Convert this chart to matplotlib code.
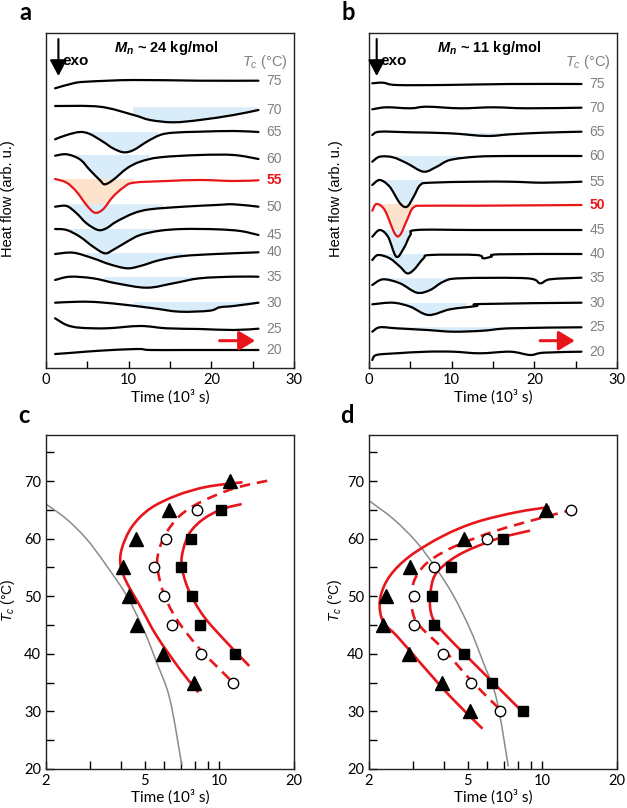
import matplotlib
matplotlib.use("Agg")
import matplotlib.pyplot as plt
from matplotlib.ticker import FixedLocator, FixedFormatter, NullFormatter
from matplotlib.path import Path
from matplotlib.patches import PathPatch, Rectangle
from matplotlib.transforms import Affine2D
import numpy as np

plt.rcParams['mathtext.fontset'] = 'custom'
plt.rcParams['mathtext.rm'] = 'Liberation Sans'
plt.rcParams['mathtext.it'] = 'Liberation Sans:italic'
plt.rcParams['mathtext.bf'] = 'Liberation Sans:italic:bold'

# ---------------- Panel a data (time in 10^3 s, heat flow arb. u.) ----------------
A75_T = [1.1, 3.3, 4.9, 10.6, 18.6, 25.7]
A75_H = [279.7, 284.7, 286.3, 288.0, 287.3, 287.3]
A70_T = [1.1, 6.5, 10.6, 12.6, 15.4, 18.6, 22.7, 25.7]
A70_H = [262.0, 261.3, 253.0, 248.0, 245.7, 248.0, 253.0, 258.0]
A65_T = [1.1, 2.5, 4.1, 5.3, 6.9, 8.1, 9.4, 10.6, 12.2, 13.8, 15.4, 18.6, 22.7, 25.7]
A65_H = [228.7, 233.0, 236.0, 234.0, 226.3, 219.7, 215.7, 218.0, 226.3, 233.0, 235.3, 236.3, 237.0, 236.0]
A60_T = [1.1, 2.5, 4.1, 5.3, 6.5, 7.1, 8.1, 9.8, 11.4, 13.8, 18.6, 22.7, 25.7]
A60_H = [212.3, 213.7, 208.7, 198.0, 188.0, 183.7, 188.0, 199.7, 206.3, 210.7, 213.0, 213.0, 209.0]
A55_T = [1.1, 2.5, 3.7, 4.9, 5.9, 6.9, 8.1, 9.4, 10.6, 14.6, 18.6, 22.7, 25.7]
A55_H = [189.0, 185.3, 176.3, 163.0, 155.3, 158.7, 171.3, 180.7, 185.3, 187.0, 188.0, 187.0, 187.7]
A50_T = [1.1, 2.5, 3.7, 4.9, 6.3, 7.3, 8.5, 10.6, 12.6, 16.6, 20.6, 22.7, 25.7]
A50_H = [161.3, 162.0, 154.7, 144.7, 138.0, 139.7, 146.3, 154.7, 158.7, 161.3, 163.0, 163.7, 161.3]
A45_T = [1.1, 2.5, 4.1, 5.7, 7.1, 8.1, 9.8, 11.4, 13.8, 16.6, 20.6, 23.5, 25.7]
A45_H = [139.0, 138.0, 131.3, 121.3, 114.7, 118.0, 126.3, 133.0, 137.3, 139.0, 138.7, 137.0, 133.0]
A40_T = [1.1, 3.3, 5.7, 7.7, 9.8, 11.4, 13.8, 16.6, 20.6, 25.7]
A40_H = [114.0, 115.3, 109.7, 103.7, 99.7, 102.0, 108.0, 112.0, 114.0, 115.7]
A35_T = [1.1, 2.9, 5.7, 8.5, 12.2, 15.4, 18.6, 22.7, 25.7]
A35_H = [88.0, 91.3, 89.7, 84.7, 80.3, 84.7, 89.7, 91.3, 91.3]
A30_T = [1.1, 4.1, 6.5, 9.8, 13.0, 16.2, 19.8, 21.0, 22.7, 25.7]
A30_H = [65.3, 66.3, 65.7, 63.0, 59.7, 56.3, 57.3, 60.7, 62.0, 65.3]
A25_T = [1.1, 2.5, 4.1, 7.3, 11.4, 14.6, 18.6, 22.7, 25.7]
A25_H = [49.7, 43.0, 40.3, 39.7, 42.0, 39.7, 39.0, 38.0, 39.3]
A20_T = [1.1, 3.3, 6.5, 11.0, 12.6, 16.6, 20.6, 25.7]
A20_H = [14.0, 15.3, 17.3, 19.0, 18.0, 18.0, 18.0, 18.0]

A_TC = [75, 70, 65, 60, 55, 50, 45, 40, 35, 30, 25, 20]
A_CURVES = [(A75_T, A75_H), (A70_T, A70_H), (A65_T, A65_H), (A60_T, A60_H),
            (A55_T, A55_H), (A50_T, A50_H), (A45_T, A45_H), (A40_T, A40_H),
            (A35_T, A35_H), (A30_T, A30_H), (A25_T, A25_H), (A20_T, A20_H)]
A_HIGHLIGHT = 55
# shaded exotherm regions: Tc -> (baseline, t_start, t_end)
A_FILL = {70: (260.7, 10.5, 25.7), 65: (236.0, 5.3, 13.6), 60: (213.0, 2.9, 12.5),
          55: (189.0, 1.1, 10.6), 50: (163.7, 2.7, 14.2), 45: (139.0, 2.9, 15.4),
          40: (115.3, 4.9, 16.6), 35: (91.3, 7.0, 19.4), 30: (66.3, 10.6, 25.4)}

# ---------------- Panel b data ----------------
B75_T = [0.4, 1.7, 3.3, 9.0, 17.1, 25.7]
B75_H = [284.7, 285.3, 283.0, 283.0, 284.0, 284.0]
B70_T = [0.4, 2.1, 5.0, 7.0, 11.0, 15.0, 19.1, 25.7]
B70_H = [258.7, 260.7, 259.7, 261.3, 259.7, 260.7, 259.7, 260.3]
B65_T = [0.4, 1.3, 5.0, 9.8, 14.2, 17.1, 21.1, 25.7]
B65_H = [233.0, 236.3, 235.7, 234.7, 232.0, 233.7, 235.3, 236.3]
B60_T = [0.4, 1.3, 2.9, 4.6, 6.6, 8.2, 9.8, 13.0, 17.1, 25.7]
B60_H = [206.3, 211.3, 210.7, 204.7, 196.3, 201.3, 208.0, 211.3, 212.0, 212.0]
B55_T = [0.4, 1.3, 2.5, 3.75, 4.6, 5.4, 6.2, 7.4, 13.0, 17.1, 21.1, 25.7]
B55_H = [183.0, 188.0, 181.3, 164.7, 161.3, 171.3, 183.0, 185.3, 186.3, 186.3, 185.3, 186.3]
B50_T = [0.4, 0.9, 1.9, 3.1, 3.75, 4.6, 5.4, 7.0, 13.0, 25.7]
B50_H = [157.3, 164.0, 158.0, 134.7, 133.0, 148.0, 160.7, 162.3, 162.3, 163.0]
B45_T = [0.4, 1.3, 2.3, 3.3, 4.2, 5.0, 5.8, 13.0, 25.7]
B45_H = [131.3, 138.0, 131.3, 111.3, 119.7, 133.0, 138.0, 138.0, 138.0]
B40_T = [0.4, 1.1, 2.5, 3.75, 4.6, 5.4, 6.6, 7.4, 13.0, 13.8, 14.8, 15.8, 25.7]
B40_H = [108.0, 113.0, 109.7, 101.3, 94.7, 98.0, 109.7, 113.0, 113.0, 109.7, 111.3, 113.7, 114.0]
B35_T = [0.4, 1.7, 3.75, 5.8, 7.4, 9.0, 11.0, 19.1, 20.7, 21.9, 25.7]
B35_H = [83.0, 88.7, 84.7, 75.3, 78.0, 86.3, 89.7, 89.7, 84.7, 88.7, 90.3]
B30_T = [0.4, 2.9, 5.0, 7.2, 9.8, 13.0, 13.6, 25.7]
B30_H = [63.7, 65.3, 61.3, 53.0, 58.7, 62.0, 64.0, 65.3]
B25_T = [0.4, 1.3, 3.3, 7.0, 10.2, 13.8, 17.1, 25.7]
B25_H = [36.3, 40.7, 39.7, 38.0, 36.3, 37.3, 39.7, 40.7]
B20_T = [0.4, 0.9, 3.3, 7.0, 10.2, 13.4, 17.1, 19.5, 21.1, 25.7]
B20_H = [8.0, 13.0, 14.7, 16.3, 16.3, 14.7, 16.3, 13.0, 15.3, 16.3]

B_TC = [75, 70, 65, 60, 55, 50, 45, 40, 35, 30, 25, 20]
B_CURVES = [(B75_T, B75_H), (B70_T, B70_H), (B65_T, B65_H), (B60_T, B60_H),
            (B55_T, B55_H), (B50_T, B50_H), (B45_T, B45_H), (B40_T, B40_H),
            (B35_T, B35_H), (B30_T, B30_H), (B25_T, B25_H), (B20_T, B20_H)]
B_HIGHLIGHT = 50
B_FILL = {65: (235.3, 9.8, 21.1), 60: (212.0, 3.3, 11.0), 55: (188.0, 1.7, 6.6),
          50: (164.0, 0.9, 5.8), 45: (138.0, 1.5, 5.8), 40: (114.0, 1.5, 7.5),
          35: (89.7, 2.1, 9.8), 30: (65.3, 3.7, 11.8), 25: (40.7, 3.3, 17.9)}

# ---------------- Panel c data (Tc vs time, 10^3 s) ----------------
C_TC_TRI = [70, 65, 60, 55, 50, 45, 40, 35]
C_T_TRI = [11.0, 6.28, 4.61, 4.10, 4.34, 4.64, 5.94, 7.93]
C_TC_CIR = [65, 60, 55, 50, 45, 40, 35]
C_T_CIR = [8.10, 6.09, 5.47, 5.98, 6.44, 8.41, 11.3]
C_TC_SQ = [65, 60, 55, 50, 45, 40]
C_T_SQ = [10.2, 7.66, 6.98, 7.73, 8.36, 11.6]
C_FIT1_T = [8.23, 6.94, 5.59, 4.79, 4.23, 4.00, 4.04, 4.43, 5.25, 6.73, 8.89, 12.4]
C_FIT1_Y = [33.3, 37.3, 43.1, 48.3, 52.4, 55.3, 58.2, 62.0, 65.2, 67.5, 69.0, 69.8]
C_FIT2_T = [11.0, 8.36, 6.73, 5.94, 5.62, 5.73, 6.13, 6.94, 8.36, 11.4, 15.8]
C_FIT2_Y = [35.6, 40.8, 46.0, 50.7, 55.3, 58.2, 61.1, 64.0, 66.3, 68.7, 70.1]
C_FIT3_T = [13.2, 10.7, 8.62, 7.50, 7.05, 7.16, 7.62, 8.62, 10.2, 12.3]
C_FIT3_Y = [37.9, 42.0, 46.6, 51.2, 55.3, 58.2, 61.1, 63.4, 65.1, 66.0]
C_GRAY_T = [2.0, 2.42, 2.92, 3.51, 4.23, 4.94, 5.59, 6.32, 7.05]
C_GRAY_Y = [66.0, 63.4, 59.9, 55.3, 50.1, 44.3, 38.5, 32.1, 20.75]

# ---------------- Panel d data ----------------
D_TC_TRI = [65, 60, 55, 50, 45, 40, 35, 30]
D_T_TRI = [10.3, 4.83, 2.93, 2.34, 2.27, 2.91, 3.93, 5.11]
D_TC_CIR = [65, 60, 55, 50, 45, 40, 35, 30]
D_T_CIR = [13.0, 5.97, 3.67, 3.04, 3.05, 3.99, 5.16, 6.75]
D_TC_SQ = [60, 55, 50, 45, 40, 35, 30]
D_T_SQ = [6.92, 4.28, 3.58, 3.67, 4.83, 6.28, 8.38]
D_FIT1_T = [5.74, 4.24, 3.21, 2.59, 2.32, 2.22, 2.23, 2.43, 2.93, 3.99, 5.44, 7.88, 10.7]
D_FIT1_Y = [27.0, 32.65, 38.5, 43.1, 45.1, 47.2, 50.1, 53.55, 57.0, 60.5, 62.9, 64.6, 65.5]
D_FIT2_T = [6.65, 5.11, 3.99, 3.21, 3.00, 2.97, 3.11, 3.52, 4.51, 6.54, 10.1, 12.9]
D_FIT2_Y = [30.6, 35.56, 40.8, 44.8, 47.2, 50.7, 53.55, 56.2, 58.8, 61.4, 63.7, 64.9]
D_FIT3_T = [8.51, 6.54, 4.95, 3.99, 3.63, 3.52, 3.63, 3.99, 4.80, 6.54, 8.92]
D_FIT3_Y = [29.5, 34.4, 39.6, 43.7, 46.0, 48.9, 53.0, 55.3, 57.6, 59.95, 61.4]
D_GRAY_T = [2.0, 2.51, 3.11, 3.75, 4.38, 5.11, 5.78, 6.54, 7.29]
D_GRAY_Y = [66.6, 63.4, 59.4, 54.7, 50.1, 44.3, 38.5, 32.1, 20.45]

TOP_XTICKS = [0, 10, 20, 30]
BOT_XTICKS = [2, 5, 10, 20]
BOT_YTICKS = [20, 30, 40, 50, 60, 70]

RED = '#e8161b'
BLUE_FILL = '#d9ecfa'
ORANGE_FILL = '#fde2cc'
GRAY_TXT = '#808080'
NUMFONT = ['Lato', 'DejaVu Sans']
ARIAL = ['Liberation Sans', 'DejaVu Sans']

W, H = 627, 808
fig = plt.figure(figsize=(W / 100, H / 100), dpi=100)


def box(l, t, r, b):
    return [l / W, 1 - b / H, (r - l) / W, (b - t) / H]


def smooth_path(x, y):
    """Smooth (Catmull-Rom style Bezier) path passing through the data points."""
    P = np.column_stack([np.asarray(x, float), np.asarray(y, float)])
    n = len(P)
    verts = [P[0]]
    codes = [Path.MOVETO]
    for i in range(n - 1):
        p0 = P[i - 1] if i > 0 else P[i]
        p1 = P[i]
        p2 = P[i + 1]
        p3 = P[i + 2] if i + 2 < n else P[i + 1]
        verts += [p1 + (p2 - p0) / 6.0, p2 - (p3 - p1) / 6.0, p2]
        codes += [Path.CURVE4] * 3
    return verts, codes


def style_spines(ax):
    for s in ax.spines.values():
        s.set_linewidth(1.0)
        s.set_color('#222222')


def top_panel(ax, tcs, curves, highlight, fills, title, arrow_t, exo_t):
    for tc, (t, h) in zip(tcs, curves):
        col = RED if tc == highlight else 'black'
        verts, codes = smooth_path(t, h)
        if tc in fills:
            base, t0, t1 = fills[tc]
            fv = verts + [(t[-1], base), (t[0], base), (t[0], base)]
            fc = codes + [Path.LINETO, Path.LINETO, Path.CLOSEPOLY]
            patch = PathPatch(Path(fv, fc),
                              facecolor=ORANGE_FILL if tc == highlight else BLUE_FILL,
                              edgecolor='none', lw=0, zorder=1)
            ax.add_patch(patch)
            clip = Rectangle((t0, -1000), t1 - t0, base + 1000, transform=ax.transData)
            patch.set_clip_path(clip)
        ax.add_patch(PathPatch(Path(verts, codes), fill=False, edgecolor=col,
                               lw=1.6, joinstyle='round', capstyle='round', zorder=3))
        ax.text(26.7, h[-1], str(tc), color=RED if tc == highlight else GRAY_TXT,
                fontsize=10, fontweight='bold' if tc == highlight else 'normal',
                family=ARIAL, ha='left', va='center')
    ax.set_xlim(0, 30)
    ax.set_ylim(0, 335)
    ax.set_yticks([])
    ax.xaxis.set_major_locator(FixedLocator(TOP_XTICKS))
    ax.xaxis.set_minor_locator(FixedLocator([5, 15, 25]))
    ax.tick_params(axis='x', which='both', direction='in', length=5, width=1,
                   pad=3.5, labelsize=10.5)
    for lab in ax.get_xticklabels():
        lab.set_family(NUMFONT)
    ax.set_xlabel('Time (10³ s)', family=NUMFONT, fontsize=11, labelpad=2)
    ax.set_ylabel('Heat flow (arb. u.)', family=ARIAL, fontsize=10.5)
    style_spines(ax)
    ax.text(14.5, 320, title, family=ARIAL, fontsize=10.5, fontweight='bold',
            ha='center', va='center')
    ax.text(29.2, 305.5, '$T_c$ (°C)', color=GRAY_TXT, family=ARIAL, fontsize=10.5,
            ha='right', va='center')
    ax.annotate('', xy=(exo_t, 292), xytext=(exo_t, 329),
                arrowprops=dict(arrowstyle='-|>,head_length=0.75,head_width=0.4',
                                color='black', lw=1.5, mutation_scale=13,
                                shrinkA=0, shrinkB=0))
    ax.text(exo_t + 0.45, 307, 'exo', family=ARIAL, fontsize=11,
            fontweight='bold', ha='left', va='center')
    ax.annotate('', xy=(arrow_t[1], 27.3), xytext=(arrow_t[0], 27.3),
                arrowprops=dict(arrowstyle='-|>,head_length=0.75,head_width=0.45',
                                color=RED, lw=2.2, mutation_scale=13,
                                shrinkA=0, shrinkB=0))


def bottom_panel(ax, tri, cir, sq, fits, gray):
    ax.set_xscale('log')
    ax.set_xlim(2, 20)
    ax.set_ylim(20, 78)
    # affine transform from (log10 t, Tc) to axes coordinates
    tr = Affine2D().translate(-np.log10(2), -20).scale(1.0, 1.0 / 58) + ax.transAxes
    gv, gc = smooth_path(np.log10(gray[0]), gray[1])
    ax.add_patch(PathPatch(Path(gv, gc), fill=False, edgecolor='#8a8a8a', lw=1.1,
                           transform=tr, zorder=2))
    styles = ['-', (0, (4.0, 2.6)), '-']
    for (ft, fy), ls in zip(fits, styles):
        fv, fcodes = smooth_path(np.log10(ft), fy)
        ax.add_patch(PathPatch(Path(fv, fcodes), fill=False, edgecolor=RED, lw=1.9,
                               linestyle=ls, capstyle='butt', transform=tr, zorder=3))
    ax.plot(tri[0], tri[1], ls='none', marker='^', ms=10, color='black',
            mec='black', zorder=5)
    ax.plot(cir[0], cir[1], ls='none', marker='o', ms=7.5, mfc='white',
            mec='black', mew=1.0, zorder=5)
    ax.plot(sq[0], sq[1], ls='none', marker='s', ms=7, color='black', zorder=5)
    ax.set_xlim(2, 20)
    ax.set_ylim(20, 78)
    ax.xaxis.set_major_locator(FixedLocator(BOT_XTICKS))
    ax.xaxis.set_major_formatter(FixedFormatter([str(v) for v in BOT_XTICKS]))
    ax.xaxis.set_minor_locator(FixedLocator([3, 4, 6, 7, 8, 9]))
    ax.xaxis.set_minor_formatter(NullFormatter())
    ax.yaxis.set_major_locator(FixedLocator(BOT_YTICKS))
    ax.yaxis.set_minor_locator(FixedLocator([25, 35, 45, 55, 65, 75]))
    ax.tick_params(which='both', direction='in', length=6, width=1, pad=3.5,
                   labelsize=10.5)
    for lab in ax.get_xticklabels() + ax.get_yticklabels():
        lab.set_family(NUMFONT)
    ax.set_xlabel('Time (10³ s)', family=NUMFONT, fontsize=11, labelpad=1)
    ax.set_ylabel('$T_c$ (°C)', family=ARIAL, fontsize=10)
    style_spines(ax)


axA = fig.add_axes(box(46, 33, 294, 368))
axB = fig.add_axes(box(369, 33, 617, 368))
axC = fig.add_axes(box(46, 435, 294, 769))
axD = fig.add_axes(box(369, 435, 617, 769))

top_panel(axA, A_TC, A_CURVES, A_HIGHLIGHT, A_FILL,
          r'$\mathbf{M_n}$ ~ 24 kg/mol', (21.0, 25.3), 1.5)
top_panel(axB, B_TC, B_CURVES, B_HIGHLIGHT, B_FILL,
          r'$\mathbf{M_n}$ ~ 11 kg/mol', (20.7, 24.9), 0.93)
axA.yaxis.set_label_coords(-0.125, 0.507)
axB.yaxis.set_label_coords(-0.105, 0.507)

bottom_panel(axC, (C_T_TRI, C_TC_TRI), (C_T_CIR, C_TC_CIR), (C_T_SQ, C_TC_SQ),
             [(C_FIT1_T, C_FIT1_Y), (C_FIT2_T, C_FIT2_Y), (C_FIT3_T, C_FIT3_Y)],
             (C_GRAY_T, C_GRAY_Y))
bottom_panel(axD, (D_T_TRI, D_TC_TRI), (D_T_CIR, D_TC_CIR), (D_T_SQ, D_TC_SQ),
             [(D_FIT1_T, D_FIT1_Y), (D_FIT2_T, D_FIT2_Y), (D_FIT3_T, D_FIT3_Y)],
             (D_GRAY_T, D_GRAY_Y))
axC.yaxis.set_label_coords(-0.115, 0.506)
axD.yaxis.set_label_coords(-0.1, 0.506)

for lbl, x, y in [('a', 25, 20), ('b', 348, 20), ('c', 24, 423), ('d', 347, 423)]:
    fig.text(x / W, 1 - y / H, lbl, family=NUMFONT, fontsize=17, fontweight='bold',
             ha='center', va='baseline')

fig.savefig('out.png', dpi=100)
